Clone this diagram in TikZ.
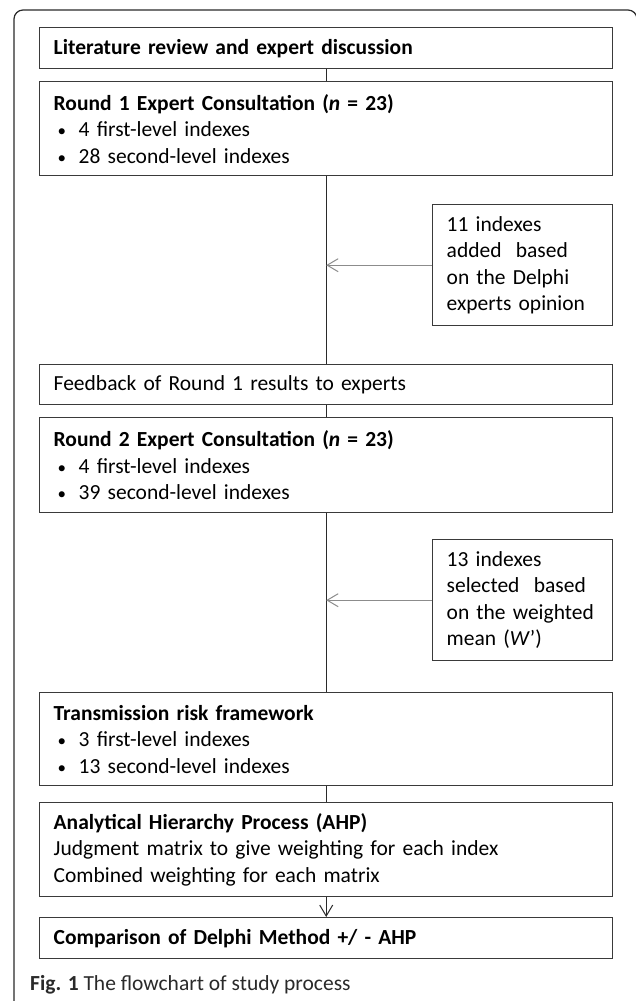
\documentclass[tikz,border=0pt]{standalone}
\usepackage{fontspec}
\setmainfont{Carlito}
\usetikzlibrary{arrows.meta}
\definecolor{boxcol}{HTML}{3A3A3A}
\definecolor{linecol}{HTML}{2A2A2A}
\definecolor{graycol}{HTML}{8C8C8C}
\newcommand\fs{\fontsize{21.5}{26.5}\selectfont}
\newcommand\capfs{\fontsize{21.5}{25}\selectfont}
\newcommand\bul[1]{\par\hspace*{4pt}\makebox[21pt][l]{\fontsize{17}{17}\selectfont•}#1}
\begin{document}
\begin{tikzpicture}[x=1pt,y=-1pt,
  mainbox/.style={draw=boxcol, line width=1.4pt, anchor=north west, text width=545pt,
    inner xsep=14pt, inner ysep=0pt, align=left, font=\fs},
  sidebox/.style={draw=boxcol, line width=1.4pt, anchor=north west, text width=152pt,
    inner xsep=14pt, inner ysep=0pt, minimum height=121pt, align=left, font=\fs},
  conn/.style={draw=linecol, line width=1pt},
  sidearrow/.style={draw=graycol, line width=1pt, -{Straight Barb[length=11pt,width=13pt,line width=1pt]}},
  downarrow/.style={draw=linecol, line width=1pt, -{Straight Barb[length=11pt,width=13pt,line width=1pt]}}
]
\useasboundingbox (0,0) rectangle (635,1001);
\fill[white] (0,0) rectangle (635,1001);
% outer frame
\draw[line width=1.2pt, draw=linecol, rounded corners=9pt] (14,1003) -- (14,10) -- (637,10) -- (637,1003);

\node[mainbox, minimum height=41pt] (b1) at (39,27) {\textbf{Literature review and expert discussion}};
\node[mainbox, minimum height=94pt] (b2) at (39,81) {\textbf{Round 1 Expert Consultation (\textit{n} = 23)}
  \bul{4 first-level indexes}
  \bul{28 second-level indexes}};
\node[sidebox] (s1) at (432,204) {11 indexes\\ added\ \ based\\ on the Delphi\\ experts opinion};
\node[mainbox, minimum height=40pt] (b3) at (39,364) {Feedback of Round 1 results to experts};
\node[mainbox, minimum height=95pt] (b4) at (39,417) {\textbf{Round 2 Expert Consultation (\textit{n} = 23)}
  \bul{4 first-level indexes}
  \bul{39 second-level indexes}};
\node[sidebox] (s2) at (432,539) {13 indexes\\ selected\ \ based\\ on the weighted\\ mean (\textit{W}’)};
\node[mainbox, minimum height=93pt] (b5) at (39,692) {\textbf{Transmission risk framework}
  \bul{3 first-level indexes}
  \bul{13 second-level indexes}};
\node[mainbox, minimum height=94pt] (b6) at (39,802) {\textbf{Analytical Hierarchy Process (AHP)}\\
  Judgment matrix to give weighting for each index\\
  Combined weighting for each matrix};
\node[mainbox, minimum height=41pt] (b7) at (39,917) {\textbf{Comparison of Delphi Method +/ - AHP}};

\node[anchor=west, inner sep=0pt, font=\capfs, text=linecol] (cap) at (30,985) {\textbf{Fig. 1} The flowchart of study process};

% connectors
\draw[conn] (b1.south) -- (b2.north);
\draw[conn] (b2.south) -- (b3.north);
\draw[conn] (b3.south) -- (b4.north);
\draw[conn] (b4.south) -- (b5.north);
\draw[conn] (b5.south) -- (b6.north);
\draw[downarrow] (b6.south) -- (b7.north);
\coordinate (j1) at (s1.west -| b2.south);
\coordinate (j2) at (s2.west -| b4.south);
\draw[sidearrow] (s1.west) -- (j1);
\draw[sidearrow] (s2.west) -- (j2);
\end{tikzpicture}
\end{document}
